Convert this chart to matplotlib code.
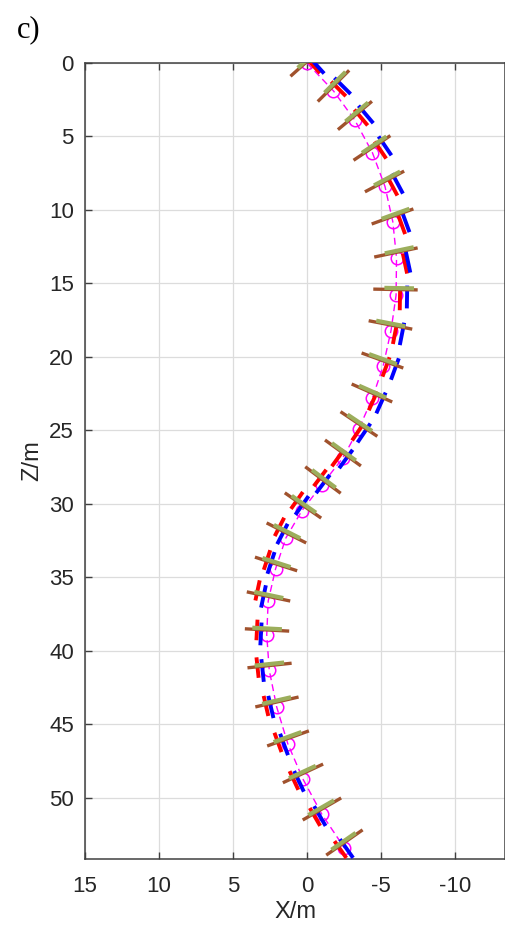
import matplotlib
matplotlib.use("Agg")
import matplotlib.pyplot as plt
import numpy as np

# reference line (magenta, circles)
x_line = [0, -1.79, -3.24, -4.42, -5.27, -5.8, -6.05, -6.02, -5.68, -5.15, -4.42, -3.5, -2.4,
          -1.0, 0.34, 1.42, 2.12, 2.62, 2.72, 2.55, 2.05, 1.3, 0.28, -1.0, -2.53]
z_line = [0, 1.9, 3.9, 6.1, 8.4, 10.8, 13.25, 15.8, 18.2, 20.6, 22.8, 24.9, 26.9,
          28.7, 30.45, 32.3, 34.4, 36.6, 38.9, 41.3, 43.8, 46.3, 48.7, 51.1, 53.4]

# element centres and inclination (deg)
x_elem = [0, -1.79, -3.24, -4.39, -5.24, -5.78, -6.01, -5.98, -5.64, -5.10, -4.39, -3.51, -2.43,
          -1.08, 0.27, 1.39, 2.09, 2.60, 2.70, 2.53, 2.03, 1.28, 0.27, -1.01, -2.53]
z_elem = [-0.1, 1.56, 3.57, 5.78, 8.06, 10.44, 12.89, 15.41, 17.82, 20.24, 22.45, 24.56, 26.53,
          28.37, 30.10, 31.97, 34.08, 36.29, 38.57, 40.99, 43.47, 45.95, 48.33, 50.75, 53.03]
angle = [42, 45, 40, 34, 28, 20, 12, -1, -11, -20, -24, -34, -36,
         -37, -35, -27, -18, -12, -3, 6, 13, 20, 25, 30, 35]

# red / blue segment offsets from element centre (m)
red_dx = [-0.41, -0.34, -0.41, -0.57, -0.54, -0.61, -0.61, -0.30, -0.30, -0.24, -0.07, 0.07, 0.34,
          0.20, 0.41, 0.47, 0.61, 0.74, 0.68, 0.81, 0.74, 0.68, 0.61, 0.47, 0.27]
red_dz = [0.27, 0.20, 0.14, 0.14, 0.34, 0.54, 0.75, 0.71, 0.61, 0.44, 0.54, 0.54, 0.34,
          -0.14, -0.34, -0.41, -0.27, -0.41, 0.0, 0.14, 0.27, 0.27, 0.48, 0.54, 0.48]
blue_dx = [-0.64, -0.61, -0.74, -0.88, -0.88, -0.88, -0.81, -0.78, -0.78, -0.84, -0.61, -0.34, -0.20,
           0.0, 0.07, 0.27, 0.34, 0.34, 0.41, 0.47, 0.41, 0.27, 0.27, 0.14, -0.14]
blue_dz = [0.24, 0.0, -0.07, -0.14, 0.14, 0.34, 0.61, 0.51, 0.61, 0.58, 0.68, 0.61, 0.41,
           0.27, 0.0, 0.07, -0.07, 0.0, 0.27, 0.34, 0.34, 0.41, 0.54, 0.48, 0.41]

L_brown, L_green, L_red, L_blue = 3.0, 2.0, 1.4, 1.55

plt.rcParams['font.family'] = ['Liberation Sans', 'DejaVu Sans']
plt.rcParams['axes.unicode_minus'] = False

fig = plt.figure(figsize=(5.05, 9.36), dpi=100)
ax = fig.add_axes([0.1683, 0.0823, 0.8317, 0.8504])

ax.plot(x_line, z_line, color='#ff00ff', lw=1.0, ls=(0, (5, 3)), marker='o',
        ms=9, mfc='none', mec='#ff00ff', mew=1.1, zorder=2)

def seg(cx, cz, a, L, du=0.0, dv=0.0):
    # a in screen degrees; screen u = -X, v_up = -Z
    t = np.radians(a)
    e1 = np.array([-np.cos(t), -np.sin(t)])
    e2 = np.array([np.sin(t), -np.cos(t)])
    c = np.array([cx, cz]) + du * e1 + dv * e2
    p0 = c - 0.5 * L * e1
    p1 = c + 0.5 * L * e1
    return [p0[0], p1[0]], [p0[1], p1[1]]

def perp(cx, cz, a, L):
    t = np.radians(a)
    e2 = np.array([np.sin(t), -np.cos(t)])
    p0 = np.array([cx, cz]) - 0.5 * L * e2
    p1 = np.array([cx, cz]) + 0.5 * L * e2
    return [p0[0], p1[0]], [p0[1], p1[1]]

for i in range(len(x_elem)):
    xs, zs = perp(x_elem[i] + red_dx[i], z_elem[i] + red_dz[i], angle[i], L_red)
    ax.plot(xs, zs, color='#ff0000', lw=2.8, zorder=3, solid_capstyle='butt')
    xs, zs = perp(x_elem[i] + blue_dx[i], z_elem[i] + blue_dz[i], angle[i], L_blue)
    ax.plot(xs, zs, color='#0000ff', lw=2.8, zorder=3, solid_capstyle='butt')
    xs, zs = seg(x_elem[i], z_elem[i], angle[i], L_brown)
    ax.plot(xs, zs, color='#a0522d', lw=2.4, zorder=4, solid_capstyle='butt')
    shift = 0.25 if angle[i] > -5 and i < 12 else 0.0
    xs, zs = seg(x_elem[i], z_elem[i], angle[i], L_green, shift, 0.1)
    ax.plot(xs, zs, color='#9cae5c', lw=3.0, zorder=5, solid_capstyle='butt')

ax.set_xlim(15, -13.38)
ax.set_ylim(54.15, 0)
ax.set_xticks([15, 10, 5, 0, -5, -10])
ax.set_yticks(np.arange(0, 55, 5))
ax.grid(True, color='#dcdcdc', lw=0.9)
ax.set_axisbelow(True)
for s in ax.spines.values():
    s.set_color('#404040')
    s.set_linewidth(1.1)
ax.tick_params(direction='in', length=5, width=1.0, color='#404040', top=True,
               labelsize=16, labelcolor='#262626')
ax.tick_params(axis='x', pad=12)
ax.tick_params(axis='y', pad=8)
ax.set_xlabel('X/m', fontsize=17, color='#262626', labelpad=3)
ax.set_ylabel('Z/m', fontsize=17, color='#262626', labelpad=4)

fig.text(0.034, 0.9605, 'c)', family='Liberation Serif', fontsize=22, va='baseline')

fig.savefig('out.png', dpi=100)
